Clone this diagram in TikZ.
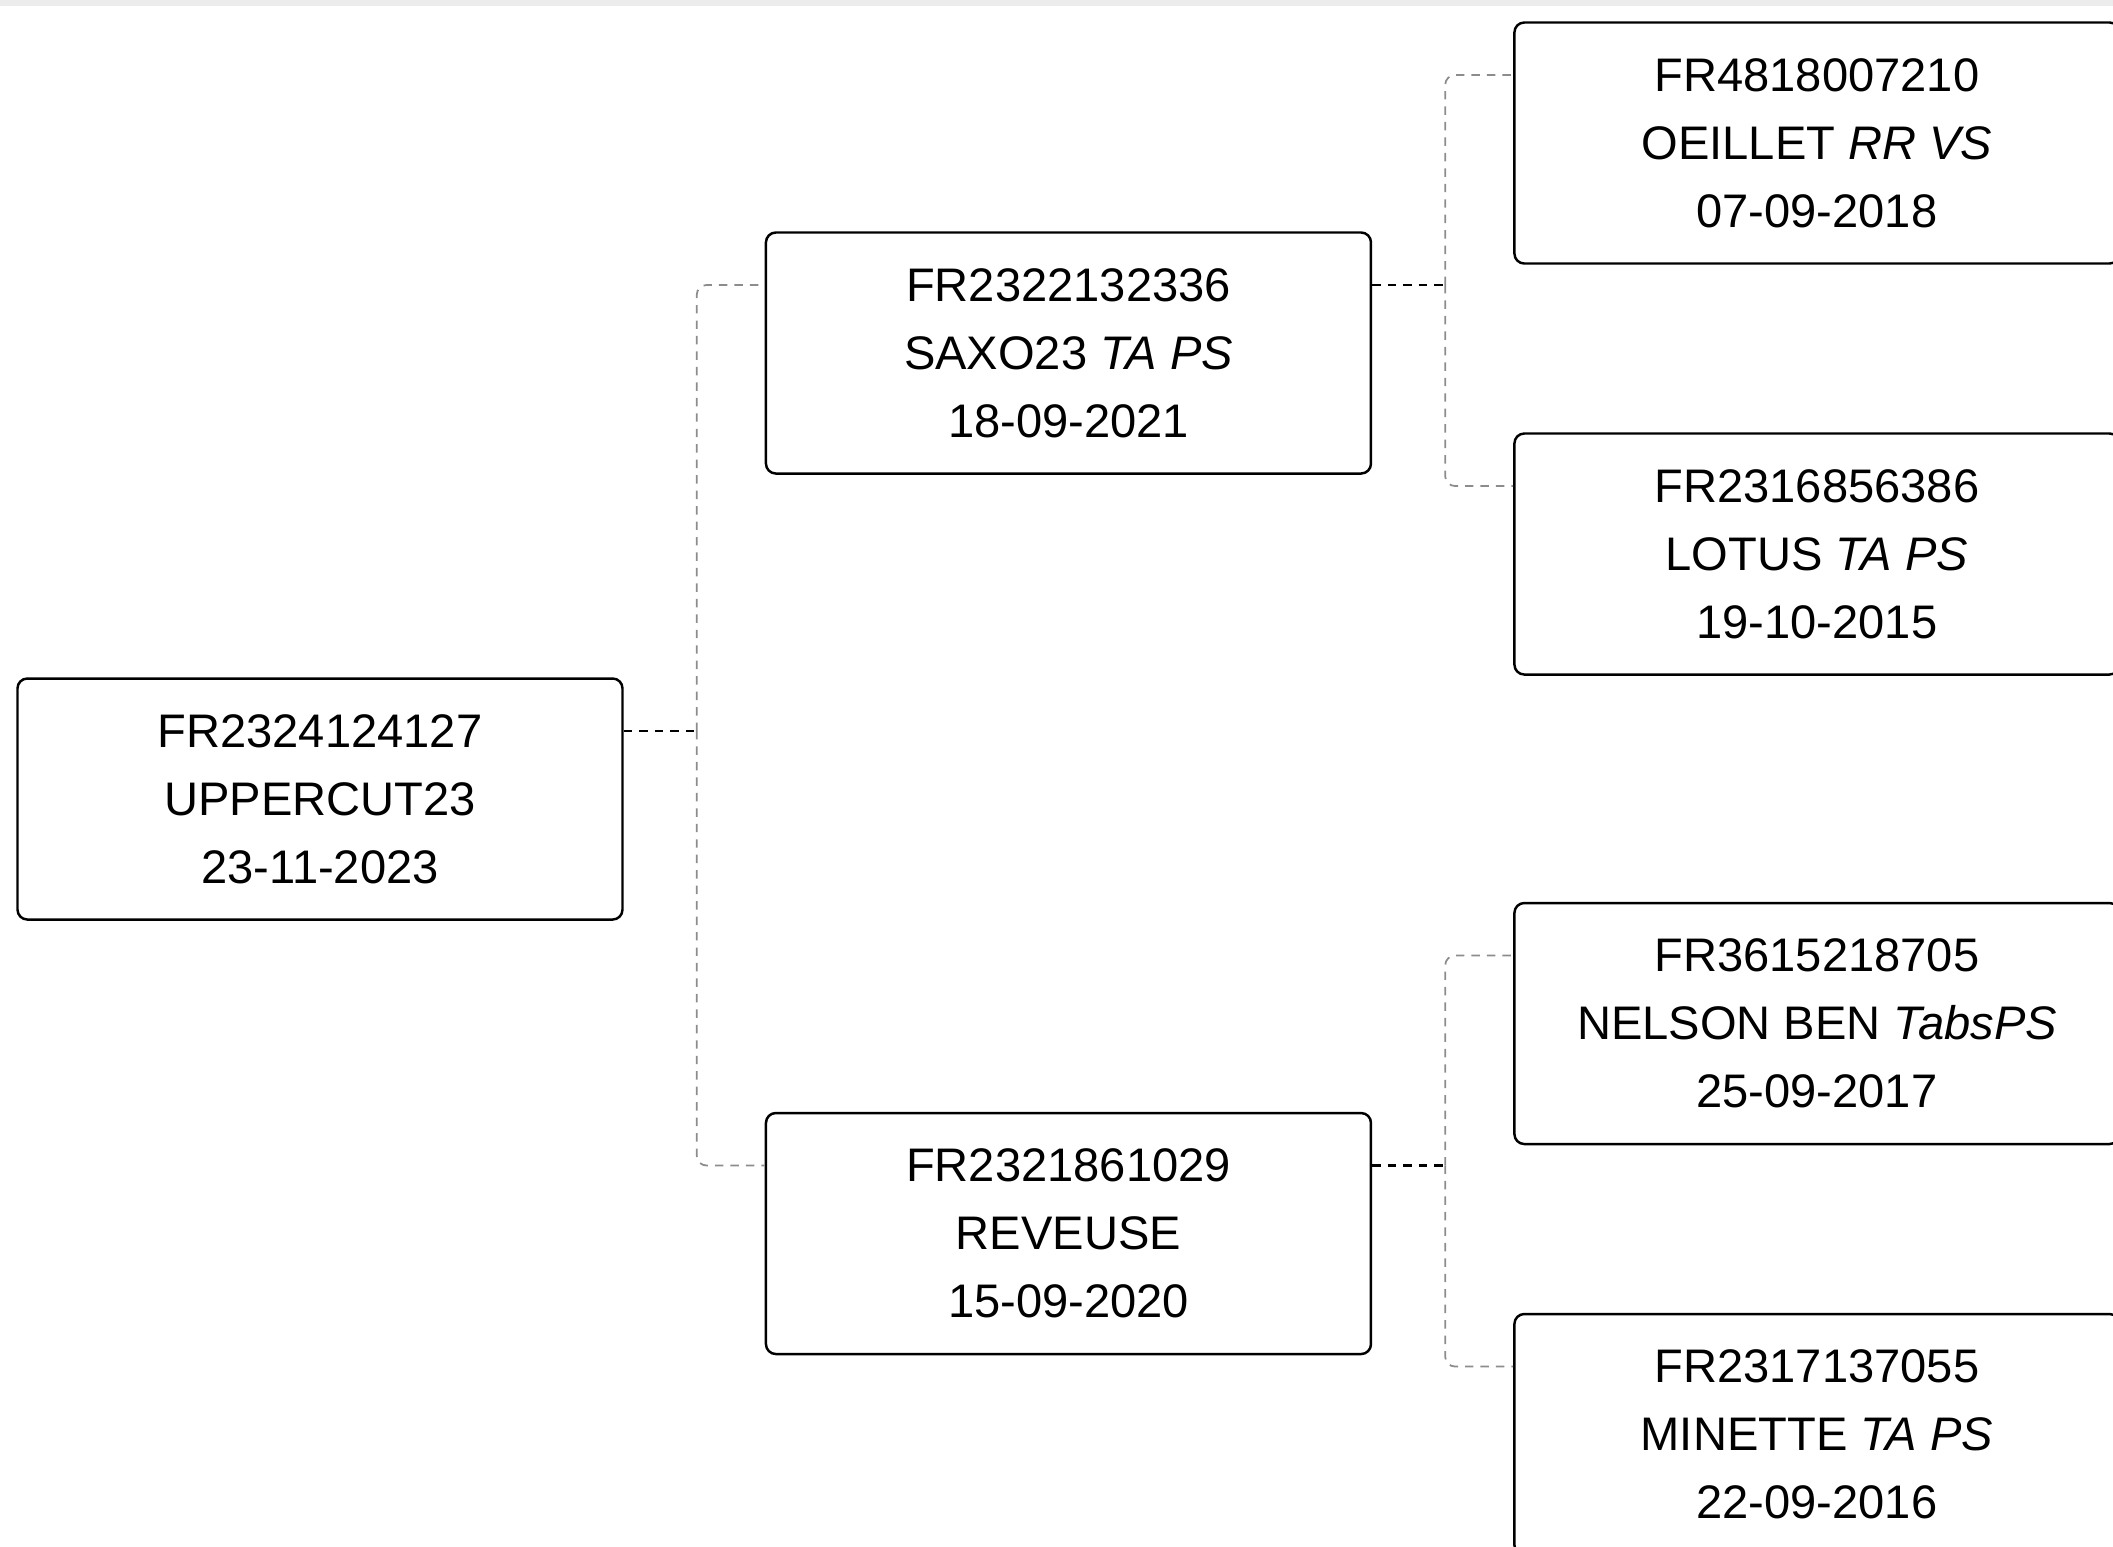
\documentclass[tikz,border=0pt]{standalone}
\usepackage{fontspec}
\setmainfont{Liberation Sans}
\usepackage{tikz}
\usetikzlibrary{positioning}

\begin{document}
\begin{tikzpicture}[
    node distance=1.41cm,
    record/.style={rectangle, draw, line width=0.7pt, rounded corners=2.8pt, minimum width=6.05cm, minimum height=2.41cm, align=center, font=\fontsize{13.4}{19.4}\selectfont},
    stub/.style={dashed, dash pattern=on 2.4pt off 2pt, line width=0.8pt},
    spine/.style={dashed, dash pattern=on 2.4pt off 2pt, line width=0.5pt, draw=black!45, rounded corners=2.8pt}
]
    \useasboundingbox (0,0) rectangle (21.13,-15.46);
    \fill[gray!15] (0,0) rectangle (21.13,-0.06);

    \node[record] (uppercut) at (3.20,-7.99) {FR2324124127\\UPPERCUT23\\23-11-2023};
    \node[record, right=of uppercut, yshift=4.46cm] (saxo) {FR2322132336\\SAXO23 \textit{TA PS}\\18-09-2021};
    \node[record, right=of uppercut, yshift=-4.345cm] (reveuse) {FR2321861029\\REVEUSE\\15-09-2020};
    \node[record, right=of saxo, yshift=2.10cm] (oeillet) {FR4818007210\\OEILLET \textit{RR VS}\\07-09-2018};
    \node[record, right=of saxo, yshift=-2.01cm] (lotus) {FR2316856386\\LOTUS \textit{TA PS}\\19-10-2015};
    \node[record, right=of reveuse, yshift=2.10cm] (nelson) {FR3615218705\\NELSON BEN \textit{TabsPS}\\25-09-2017};
    \node[record, right=of reveuse, yshift=-2.01cm] (minette) {FR2317137055\\MINETTE \textit{TA PS}\\22-09-2016};

    \draw[stub] ([yshift=0.68cm]uppercut.east) -- ++(0.73,0) coordinate (j1);
    \draw[spine] (j1) |- ([yshift=0.68cm]saxo.west);
    \draw[spine] (j1) |- ([yshift=0.68cm]reveuse.west);
    \draw[stub] ([yshift=0.68cm]saxo.east) -- ++(0.73,0) coordinate (j2);
    \draw[spine] (j2) |- ([yshift=0.68cm]oeillet.west);
    \draw[spine] (j2) |- ([yshift=0.68cm]lotus.west);
    \draw[stub] ([yshift=0.68cm]reveuse.east) -- ++(0.73,0) coordinate (j3);
    \draw[spine] (j3) |- ([yshift=0.68cm]nelson.west);
    \draw[spine] (j3) |- ([yshift=0.68cm]minette.west);
\end{tikzpicture}
\end{document}
